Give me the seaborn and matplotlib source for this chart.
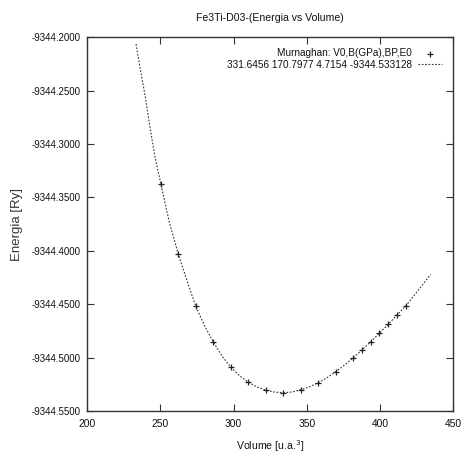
import matplotlib
matplotlib.use("Agg")
import matplotlib.pyplot as plt
import seaborn as sns
import pandas as pd
from matplotlib import font_manager

# Data points
volume = [250.3, 262.2, 274.0, 286.1, 297.9, 310.0, 322.1, 333.9, 345.8, 357.8,
          369.7, 381.7, 387.6, 393.6, 399.5, 405.6, 411.3, 417.5]
energy = [-9344.3377, -9344.4032, -9344.4514, -9344.4854, -9344.5088, -9344.5231,
          -9344.5306, -9344.5329, -9344.5301, -9344.5235, -9344.5132, -9344.5001,
          -9344.4929, -9344.4851, -9344.4772, -9344.4688, -9344.4604, -9344.4517]

# Fitted curve, points
curve_v = [233.3, 236.5, 239.4, 242.8, 246.2, 250.3, 256.0, 262.2, 269.7, 274.0,
           280.0, 286.1, 292.0, 297.9, 304.0, 310.0, 316.0, 322.1, 328.0, 333.9,
           340.0, 345.8, 352.0, 357.8, 363.8, 369.7, 375.7, 381.7, 387.6, 393.6,
           399.5, 405.6, 411.3, 417.5, 426.0, 434.6]
curve_e = [-9344.2063, -9344.2320, -9344.2540, -9344.2840, -9344.3118, -9344.3377,
           -9344.3730, -9344.4032, -9344.4345, -9344.4514, -9344.4700, -9344.4854,
           -9344.4985, -9344.5088, -9344.5170, -9344.5231, -9344.5276, -9344.5306,
           -9344.5323, -9344.5329, -9344.5322, -9344.5301, -9344.5272, -9344.5235,
           -9344.5188, -9344.5132, -9344.5070, -9344.5001, -9344.4929, -9344.4851,
           -9344.4772, -9344.4688, -9344.4604, -9344.4517, -9344.4370, -9344.4220]

x_ticks = [200, 250, 300, 350, 400, 450]
y_ticks = [-9344.20, -9344.25, -9344.30, -9344.35, -9344.40, -9344.45, -9344.50, -9344.55]

title = "Fe3Ti-D03-(Energia vs Volume)"
legend_points = "Murnaghan: V0,B(GPa),BP,E0"
legend_curve = "331.6456 170.7977 4.7154 -9344.533128"

sns.set_theme(style="white")
names = {f.name for f in font_manager.fontManager.ttflist}
narrow = "Liberation Sans Narrow" if "Liberation Sans Narrow" in names else "Liberation Sans"
plt.rcParams["font.family"] = [narrow, "DejaVu Sans"]
plt.rcParams["text.color"] = "#111111"
plt.rcParams["axes.labelcolor"] = "#111111"
plt.rcParams["xtick.labelcolor"] = "#111111"
plt.rcParams["ytick.labelcolor"] = "#111111"

fig = plt.figure(figsize=(4.68, 4.59), dpi=100)
ax = fig.add_axes([0.1865, 0.1046, 0.9686 - 0.1865, 0.9187 - 0.1046])

df_pts = pd.DataFrame({"V": volume, "E": energy})
df_fit = pd.DataFrame({"V": curve_v, "E": curve_e})

sns.scatterplot(data=df_pts, x="V", y="E", marker="+", s=20, color="#222222",
                linewidth=0.9, ax=ax, label=legend_points, zorder=3)
sns.lineplot(data=df_fit, x="V", y="E", sort=False, color="#333333",
             linewidth=0.8, linestyle=(0, (1.5, 1.5)), ax=ax, label=legend_curve, zorder=2)

ax.set_xlim(200, 450)
ax.set_ylim(-9344.55, -9344.20)
ax.set_xticks(x_ticks)
ax.set_xticklabels([str(t) for t in x_ticks], fontsize=7.4)
ax.set_yticks(y_ticks)
ax.set_yticklabels([f"{t:.4f}" for t in y_ticks], fontsize=7.0)
ax.tick_params(direction="in", length=5, width=0.8, color="#333333",
               top=True, right=True, bottom=True, left=True)
ax.tick_params(axis="x", pad=6)
ax.tick_params(axis="y", pad=5)
for s in ax.spines.values():
    s.set_color("#333333")
    s.set_linewidth(1.0)

ax.set_xlabel("Volume [u.a.$^3$]", fontsize=7.6)
ax.xaxis.set_label_coords(0.5, -0.073)
ax.set_ylabel("Energia [Ry]", fontsize=9.5, color="#333333",
              family=["Liberation Sans", "DejaVu Sans"])
ax.yaxis.set_label_coords(-0.175, 0.5)
ax.set_title(title, fontsize=7.6, pad=12)

leg = ax.legend(loc="upper right", frameon=False, markerfirst=False, fontsize=7.2,
                handlelength=2.4, handletextpad=0.6, borderaxespad=0.7,
                labelspacing=0.15)

fig.savefig("out.png", dpi=100, facecolor="white")
